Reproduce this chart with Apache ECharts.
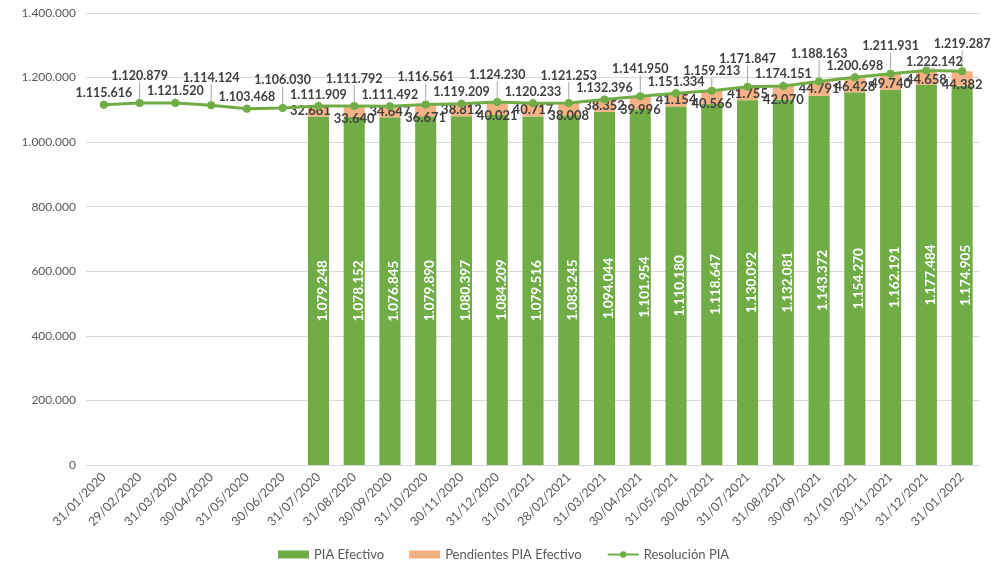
<!DOCTYPE html>
<html>
<head>
<meta charset="utf-8">
<script src="https://cdn.jsdelivr.net/npm/echarts@6/dist/echarts.min.js"></script>
<style>html,body{margin:0;padding:0;background:#fff}#c{width:991px;height:569px}</style>
</head>
<body>
<div id="c"></div>
<script>
const categories = ["31/01/2020","29/02/2020","31/03/2020","30/04/2020","31/05/2020","30/06/2020","31/07/2020","31/08/2020","30/09/2020","31/10/2020","30/11/2020","31/12/2020","31/01/2021","28/02/2021","31/03/2021","30/04/2021","31/05/2021","30/06/2021","31/07/2021","31/08/2021","30/09/2021","31/10/2021","30/11/2021","31/12/2021","31/01/2022"];
const piaEfectivo = [null,null,null,null,null,null,1079248,1078152,1076845,1079890,1080397,1084209,1079516,1083245,1094044,1101954,1110180,1118647,1130092,1132081,1143372,1154270,1162191,1177484,1174905];
const pendientes = [null,null,null,null,null,null,32661,33640,34647,36671,38812,40021,40717,38008,38352,39996,41154,40566,41755,42070,44791,46428,49740,44658,44382];
const resolucion = [1115616,1120879,1121520,1114124,1103468,1106030,1111909,1111792,1111492,1116561,1119209,1124230,1120233,1121253,1132396,1141950,1151334,1159213,1171847,1174151,1188163,1200698,1211931,1222142,1219287];
const yTicks = [0,200000,400000,600000,800000,1000000,1200000,1400000];

function fmt(v){ return String(Math.round(v)).replace(/\B(?=(\d{3})+(?!\d))/g,'.'); }
const FONT = 'Lato, "Open Sans", sans-serif';

const chart = echarts.init(document.getElementById('c'));
chart.setOption({
  animation:false,
  textStyle:{fontFamily:FONT},
  grid:{left:86,right:11,top:13,bottom:104},
  legend:{
    bottom:3,left:273,itemGap:25,itemWidth:31,itemHeight:8,
    textStyle:{color:'#595959',fontSize:13,fontFamily:FONT},
    data:[{name:'PIA Efectivo',icon:'rect'},{name:'Pendientes PIA Efectivo',icon:'rect'},{name:'Resolución PIA'}]
  },
  xAxis:{
    type:'category',data:categories,
    axisLine:{lineStyle:{color:'#D9D9D9'}},
    axisTick:{lineStyle:{color:'#D9D9D9'},length:5},
    axisLabel:{rotate:45,color:'#595959',fontSize:12.5,fontFamily:FONT,interval:0,margin:10}
  },
  yAxis:{
    type:'value',min:0,max:yTicks[yTicks.length-1],interval:200000,
    axisLine:{show:false},axisTick:{show:false},
    splitLine:{lineStyle:{color:'#D9D9D9'}},
    axisLabel:{color:'#595959',fontSize:12,fontFamily:FONT,formatter:v=>fmt(v),margin:10}
  },
  series:[
    {name:'PIA Efectivo',type:'bar',stack:'s',data:piaEfectivo,barCategoryGap:'41%',
     itemStyle:{color:'#70AD47'},
     label:{show:true,position:'inside',rotate:90,color:'#fff',fontWeight:'bold',fontSize:13.5,fontFamily:FONT,offset:[0,4],formatter:p=>fmt(p.value)}},
    {name:'Pendientes PIA Efectivo',type:'bar',stack:'s',data:pendientes,
     itemStyle:{color:'#F4B183'},
     label:{show:true,position:'inside',color:'#404040',fontWeight:'bold',fontSize:13,fontFamily:FONT,formatter:p=>fmt(p.value)},
     labelLayout:function(p){
       const i=p.dataIndex;
       let dy = (i%2===1)?7:0, dx=0;
       if(i===6) dx=-8;
       if(i>=21) dy = (i===24)?6:2;
       return {dx:dx,dy:dy};
     }},
    {name:'Resolución PIA',type:'line',data:resolucion,z:5,
     symbol:'circle',symbolSize:8,
     lineStyle:{color:'#70AD47',width:3},itemStyle:{color:'#70AD47'},
     label:{show:true,position:'top',distance:1,color:'#404040',fontWeight:'bold',fontSize:12.5,fontFamily:FONT,formatter:p=>fmt(p.value)},
     labelLine:{show:true,lineStyle:{color:'#A6A6A6',width:1}},
     labelLayout:function(p){
       const i=p.dataIndex;
       if(i===17) return {dy:-8};
       const high = i<17 ? (i%2===1) : (i%2===0);
       if(high) return {dy:-16};
       if(i===23) return {dx:8, dy:3};
       return {};
     }
    }
  ]
});
</script>
</body>
</html>
